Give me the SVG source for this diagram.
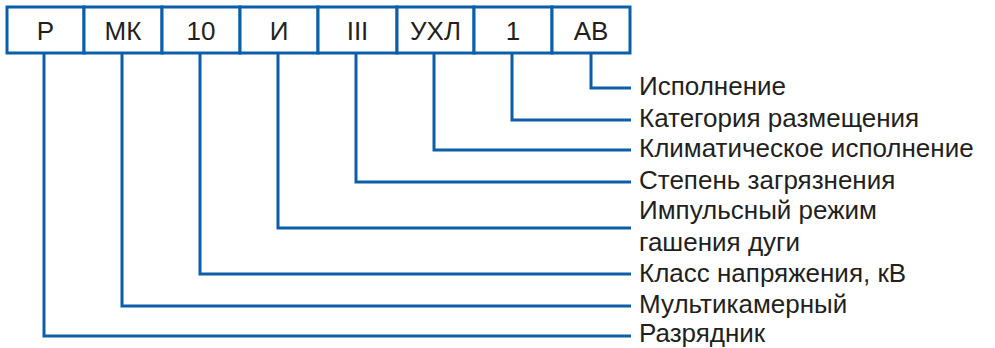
<svg xmlns="http://www.w3.org/2000/svg" width="995" height="348" viewBox="0 0 995 348">
<style>
.box{fill:#fff;stroke:#0b5ea8;stroke-width:3}
.ln{fill:none;stroke:#0b5ea8;stroke-width:3}
.t{font-family:"Liberation Sans",Arial,sans-serif;font-size:26px;fill:#231f20}
.c{text-anchor:middle}
</style>
<rect width="995" height="348" fill="#fff"/>
<g id="connectors">
<path class="ln" d="M591,54 V88 H631"/>
<path class="ln" d="M512,54 V120 H631"/>
<path class="ln" d="M434,54 V150 H631"/>
<path class="ln" d="M356,54 V182 H631"/>
<path class="ln" d="M278,54 V228 H631"/>
<path class="ln" d="M200,54 V274 H631"/>
<path class="ln" d="M122,54 V306 H631"/>
<path class="ln" d="M44,54 V336 H631"/>
</g>
<g id="box-r"><rect class="box" x="7" y="7" width="77" height="46"/><text class="t c" x="45.5" y="40">Р</text></g>
<g id="box-mk"><rect class="box" x="84" y="7" width="78" height="46"/><text class="t c" x="123" y="40">МК</text></g>
<g id="box-10"><rect class="box" x="162" y="7" width="78" height="46"/><text class="t c" x="201" y="40">10</text></g>
<g id="box-i"><rect class="box" x="240" y="7" width="78" height="46"/><text class="t c" x="279" y="40">И</text></g>
<g id="box-iii"><rect class="box" x="318" y="7" width="79" height="46"/><text class="t c" x="357.5" y="40">III</text></g>
<g id="box-uhl"><rect class="box" x="397" y="7" width="77" height="46"/><text class="t c" x="435.5" y="40">УХЛ</text></g>
<g id="box-1"><rect class="box" x="474" y="7" width="78" height="46"/><text class="t c" x="513" y="40">1</text></g>
<g id="box-av"><rect class="box" x="552" y="7" width="78" height="46"/><text class="t c" x="591" y="40">АВ</text></g>
<g id="labels">
<text class="t" x="639" y="95">Исполнение</text>
<text class="t" x="639" y="127">Категория размещения</text>
<text class="t" x="639" y="157">Климатическое исполнение</text>
<text class="t" x="639" y="189">Степень загрязнения</text>
<text class="t" x="639" y="219">Импульсный режим</text>
<text class="t" x="639" y="251">гашения дуги</text>
<text class="t" x="639" y="282">Класс напряжения, кВ</text>
<text class="t" x="639" y="313">Мультикамерный</text>
<text class="t" x="639" y="342">Разрядник</text>
</g>
</svg>
